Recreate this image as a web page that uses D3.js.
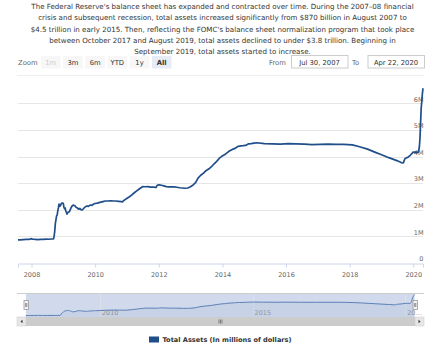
<!DOCTYPE html>
<html>
<head>
<meta charset="utf-8">
<script src="https://cdn.jsdelivr.net/npm/d3@7"></script>
<style>
body { margin: 0; background: #fff; }
svg text { font-family: "DejaVu Sans", sans-serif; }
</style>
</head>
<body>
<div class="chart"></div>
<script>
// weekly-ish readings of total assets, millions of dollars
var dates = ["2007-07-30","2007-08-29","2007-09-26","2007-10-31","2007-11-28","2007-12-19","2007-12-26",
"2008-01-16","2008-02-13","2008-03-12","2008-04-16","2008-05-14","2008-06-18","2008-07-16","2008-08-13",
"2008-09-10","2008-09-17","2008-09-24","2008-10-01","2008-10-08","2008-10-15","2008-10-22","2008-10-29",
"2008-11-05","2008-11-12","2008-11-19","2008-11-26","2008-12-03","2008-12-10","2008-12-17","2008-12-24",
"2008-12-31","2009-01-07","2009-01-14","2009-01-21","2009-01-28","2009-02-04","2009-02-11","2009-02-18",
"2009-02-25","2009-03-11","2009-03-25","2009-04-01","2009-04-15","2009-04-29","2009-05-13","2009-05-27",
"2009-06-10","2009-06-24","2009-07-08","2009-07-22","2009-08-05","2009-08-19","2009-09-02","2009-09-16",
"2009-09-30","2009-10-14","2009-10-28","2009-11-11","2009-11-25","2009-12-09","2009-12-30",
"2010-01-27","2010-02-24","2010-03-31","2010-04-28","2010-05-26","2010-06-30","2010-07-28","2010-08-25",
"2010-09-29","2010-10-27","2010-11-10","2010-11-24","2010-12-29",
"2011-01-26","2011-02-23","2011-03-30","2011-04-27","2011-05-25","2011-06-29","2011-07-27","2011-08-31",
"2011-09-28","2011-10-26","2011-11-23","2011-11-30","2011-12-14",
"2012-01-04","2012-02-01","2012-02-29","2012-03-28","2012-04-25","2012-05-30","2012-06-27","2012-07-25",
"2012-08-29","2012-09-26","2012-10-31","2012-11-28","2012-12-26",
"2013-01-30","2013-02-27","2013-03-27","2013-04-24","2013-05-29","2013-06-26","2013-07-31","2013-08-28",
"2013-09-25","2013-10-30","2013-11-27","2013-12-25",
"2014-01-29","2014-02-26","2014-03-26","2014-04-30","2014-05-28","2014-06-25","2014-07-30","2014-08-27",
"2014-09-24","2014-10-29","2014-11-26","2014-12-31",
"2015-01-28","2015-04-29","2015-07-29","2015-10-28","2016-01-27","2016-04-27","2016-07-27","2016-10-26",
"2017-01-25","2017-04-26","2017-07-26","2017-10-25","2018-01-31","2018-04-25","2018-07-25","2018-10-31",
"2018-12-26","2019-03-27","2019-06-26","2019-08-28","2019-09-11","2019-09-18","2019-10-02","2019-10-30",
"2019-11-27","2019-12-18","2019-12-31","2020-01-29","2020-02-26","2020-03-04","2020-03-11","2020-03-18",
"2020-03-25","2020-04-01","2020-04-08","2020-04-15","2020-04-22"]

var totalAssets = [869000,872000,877000,885000,886000,900000,915000,
892000,888000,878000,888000,890000,895000,893000,903000,
906000,1013000,1205000,1491000,1633000,1775000,1803000,1967000,
2072000,2214000,2133000,2141000,2197000,2238000,2256000,2245000,
2240000,2096000,2048000,2075000,1963000,1908000,1842000,1880000,
1916000,1925000,2036000,2090000,2158000,2174000,2153000,2095000,
2070000,2025000,2050000,2005000,1995000,2040000,2090000,2120000,
2145000,2130000,2160000,2180000,2165000,2205000,2237000,
2250000,2280000,2310000,2330000,2330000,2336000,2330000,2330000,
2315000,2305000,2300000,2345000,2423000,
2480000,2550000,2650000,2720000,2790000,2869000,2866000,2868000,
2855000,2858000,2845000,2840000,2920000,
2940000,2923000,2900000,2870000,2860000,2865000,2860000,2848000,
2830000,2820000,2810000,2820000,2860000,
2935000,3020000,3190000,3290000,3380000,3470000,3540000,3620000,
3720000,3830000,3940000,4010000,
4075000,4150000,4220000,4280000,4310000,4380000,4405000,4410000,
4420000,4480000,4490000,4509000,
4520000,4490000,4480000,4470000,4490000,4480000,4470000,4450000,
4460000,4470000,4460000,4460000,4440000,4370000,4280000,4150000,
4080000,3960000,3850000,3760000,3770000,3850000,3940000,3970000,
4050000,4120000,4173000,4170000,4160000,4240000,4360000,4670000,
5250000,5810000,6080000,6370000,6570000]

var yTicks = [0,1000000,2000000,3000000,4000000,5000000,6000000]
var zoomButtons = ["1m","3m","6m","YTD","1y","All"]
var fromLabel = "Jul 30, 2007", toLabel = "Apr 22, 2020"
var seriesName = "Total Assets (In millions of dollars)"
var intro = ["The Federal Reserve's balance sheet has expanded and contracted over time. During the 2007–08 financial",
"crisis and subsequent recession, total assets increased significantly from $870 billion in August 2007 to",
"$4.5 trillion in early 2015. Then, reflecting the FOMC's balance sheet normalization program that took place",
"between October 2017 and August 2019, total assets declined to under $3.8 trillion. Beginning in",
"September 2019, total assets started to increase."]

var width = 445, height = 352
var color = "#1f4e89"
var parse = d3.timeParse("%Y-%m-%d")
var data = dates.map(function(d,i){ return {date: parse(d), value: totalAssets[i]} })

var svg = d3.select(".chart").append("svg").attr("width",width).attr("height",height)

// intro text
svg.append("g").selectAll("text").data(intro).enter().append("text")
	.attr("x",222.5).attr("y",function(d,i){return 9.3 + i*11.1})
	.attr("text-anchor","middle").attr("fill","#333").style("font-size","7.1px")
	.text(function(d){return d})

// range selector
svg.append("text").attr("x",18).attr("y",64.5).attr("fill","#666").style("font-size","6.8px").text("Zoom")
var btn = svg.append("g").selectAll("g").data(zoomButtons).enter().append("g")
	.attr("transform",function(d,i){return "translate("+(41+i*22.2)+",56)"})
btn.append("rect").attr("width",19.5).attr("height",12.5)
	.attr("fill",function(d){return d=="All" ? "#e6ebf5" : "#f7f7f7"})
btn.append("text").attr("x",9.75).attr("y",8.8).attr("text-anchor","middle")
	.attr("fill",function(d){return d=="1m" ? "#ccc" : "#333"})
	.style("font-size","6.8px").style("font-weight",function(d){return d=="All" ? "bold" : "normal"})
	.text(function(d){return d})

svg.append("text").attr("x",269).attr("y",64.5).attr("fill","#666").style("font-size","6.8px").text("From")
svg.append("text").attr("x",352).attr("y",64.5).attr("fill","#666").style("font-size","6.8px").text("To")
;[[291,fromLabel],[367.5,toLabel]].forEach(function(b){
	svg.append("rect").attr("x",b[0]+0.5).attr("y",55.5).attr("width",56.5).attr("height",12.5)
		.attr("fill","#fff").attr("stroke","#ccc")
	svg.append("text").attr("x",b[0]+28.5).attr("y",64.5).attr("text-anchor","middle")
		.attr("fill","#333").style("font-size","6.8px").text(b[1])
})
svg.append("line").attr("x1",17).attr("x2",424).attr("y1",75.5).attr("y2",75.5).attr("stroke","#eee")

//scales
var x = d3.scaleTime().domain([data[0].date, data[data.length-1].date]).range([18,423])
var y = d3.scaleLinear().domain([0,6000000]).range([263,103.4])

// gridlines + y labels
var grid = svg.append("g")
grid.selectAll("line").data(yTicks.slice(1)).enter().append("line")
	.attr("x1",18).attr("x2",423).attr("y1",function(d){return Math.round(y(d))+0.5}).attr("y2",function(d){return Math.round(y(d))+0.5})
	.attr("stroke","#e6e6e6")
grid.selectAll("text").data(yTicks).enter().append("text")
	.attr("x",423.5).attr("y",function(d){return y(d)-1.8})
	.attr("text-anchor","end").attr("fill","#666").style("font-size","6.5px")
	.text(function(d){return d==0 ? "0" : d/1000000+"M"})

// x axis
var xAxis = svg.append("g").attr("transform","translate(0,263.5)")
	.call(d3.axisBottom(x).ticks(d3.timeYear.every(2)).tickSize(4).tickFormat(d3.timeFormat("%Y")))
xAxis.select(".domain").attr("stroke","#ccd6eb")
xAxis.selectAll(".tick line").attr("stroke","#ccd6eb")
xAxis.selectAll(".tick text").attr("fill","#666").style("font-size","6.5px").attr("y",9).attr("dy","0.71em")

// main line
var line = d3.line().x(function(d){return x(d.date)}).y(function(d){return y(d.value)})
svg.append("path").datum(data).attr("d",line).attr("fill","none").attr("stroke",color)
	.attr("stroke-width",1.7).attr("stroke-linejoin","round")

// navigator
var nx = d3.scaleTime().domain(x.domain()).range([25.9,414.5])
var ny = d3.scaleLinear().domain(d3.extent(totalAssets)).range([315.5,294.5])
var nav = svg.append("g")
nav.append("rect").attr("x",25.9).attr("y",293).attr("width",414.5-25.9).attr("height",24)
	.attr("fill","rgba(102,133,194,0.3)")
nav.selectAll("line.ng").data([new Date(2010,0,1),new Date(2015,0,1),new Date(2020,0,1)]).enter().append("line")
	.attr("class","ng").attr("x1",function(d){return Math.round(nx(d))+0.5}).attr("x2",function(d){return Math.round(nx(d))+0.5})
	.attr("y1",293).attr("y2",317).attr("stroke","#e6e6e6").attr("stroke-opacity",0.5)
nav.selectAll("text").data([[new Date(2010,0,1),"2010"],[new Date(2015,0,1),"2015"],[new Date(2020,0,1),"20…"]]).enter().append("text")
	.attr("x",function(d){return nx(d[0])+2}).attr("y",314.5).attr("fill","#999").style("font-size","6.5px")
	.text(function(d){return d[1]})
var area = d3.area().x(function(d){return nx(d.date)}).y0(317).y1(function(d){return ny(d.value)})
nav.append("path").datum(data).attr("d",area).attr("fill",color).attr("fill-opacity",0.05)
nav.append("path").datum(data).attr("d",d3.line().x(function(d){return nx(d.date)}).y(function(d){return ny(d.value)}))
	.attr("fill","none").attr("stroke","#5b7fb5").attr("stroke-width",1)
nav.append("line").attr("x1",17).attr("x2",424).attr("y1",293.5).attr("y2",293.5).attr("stroke","#ccc")
;[25.9,414.5].forEach(function(h){
	var g = nav.append("g").attr("transform","translate("+Math.round(h)+",305)")
	g.append("rect").attr("x",-2).attr("y",-4.5).attr("width",4.5).attr("height",9).attr("fill","#f2f2f2").attr("stroke","#999").attr("stroke-width",0.8)
	g.append("line").attr("x1",-0.3).attr("x2",-0.3).attr("y1",-2).attr("y2",2).attr("stroke","#333").attr("stroke-width",0.5)
	g.append("line").attr("x1",0.8).attr("x2",0.8).attr("y1",-2).attr("y2",2).attr("stroke","#333").attr("stroke-width",0.5)
})

// scrollbar
svg.append("rect").attr("x",17).attr("y",317).attr("width",407).attr("height",9).attr("fill","#cccccc")
;[[17,"M20.5,321.5 L22.5,319.8 L22.5,323.2 Z"],[415,"M420.5,321.5 L418.5,319.8 L418.5,323.2 Z"]].forEach(function(b){
	svg.append("rect").attr("x",b[0]).attr("y",317).attr("width",9).attr("height",9).attr("fill","#e6e6e6").attr("stroke","#ccc").attr("stroke-width",0.5)
	svg.append("path").attr("d",b[1]).attr("fill","#333")
})
;[-1.5,0,1.5].forEach(function(o){
	svg.append("line").attr("x1",220.5+o).attr("x2",220.5+o).attr("y1",319.5).attr("y2",323.5).attr("stroke","#333").attr("stroke-width",0.5)
})

// legend
svg.append("rect").attr("x",149).attr("y",336.5).attr("width",10).attr("height",6).attr("fill",color)
svg.append("text").attr("x",162.5).attr("y",342.3).attr("fill","#333").style("font-size","6.6px").style("font-weight","bold").text(seriesName)
</script>
</body>
</html>
